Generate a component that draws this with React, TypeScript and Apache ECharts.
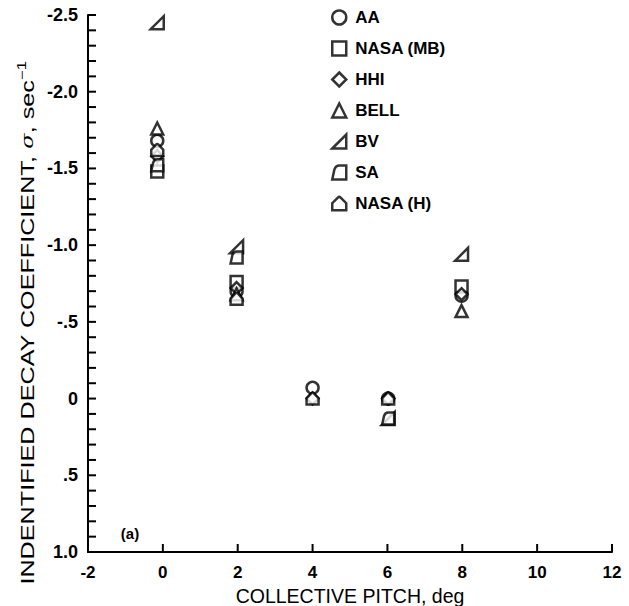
import React, { useEffect, useRef } from "react";
import * as echarts from "echarts";

// Collective pitch positions of the five test columns (deg)
const pitch = [-0.15, 1.97, 4.0, 6.02, 7.98];

// Identified decay coefficient sigma (sec^-1) per source, aligned with pitch; null = no point
const aaValues = [-1.68, -0.7, -0.07, 0.0, -0.67];
const nasaMbValues = [-1.48, -0.76, null, null, -0.73];
const hhiValues = [-1.58, -0.72, 0.0, 0.0, -0.68];
const bellValues = [-1.76, -0.68, null, null, -0.57];
const bvValues = [-2.45, -0.99, null, 0.13, -0.94];
const saValues = [-1.52, -0.92, null, 0.13, null];
const nasaHValues = [-1.62, -0.65, 0.0, 0.0, null];

const seriesNames = ["AA", "NASA (MB)", "HHI", "BELL", "BV", "SA", "NASA (H)"];

const yTickValues = [-2.5, -2.0, -1.5, -1.0, -0.5, 0, 0.5, 1.0];
const yTickLabels = ["-2.5", "-2.0", "-1.5", "-1.0", "-.5", "0", ".5", "1.0"];
const yMinorPerMajor = 5;

const xTickValues = [-2, 0, 2, 4, 6, 8, 10, 12];
const xTickLabels = ["-2", "0", "2", "4", "6", "8", "10", "12"];

const SYMBOLS = [
  "circle",
  "rect",
  "diamond",
  "triangle",
  "path://M0,10 L10,0 L10,10 Z",
  "path://M0,10 L1.5,3 Q2.5,0 5,0 L10,0 L10,10 Z",
  "path://M0,10 L0,5 L4,1 Q5,0 6,1 L10,5 L10,10 Z",
];

const allValues = [aaValues, nasaMbValues, hhiValues, bellValues, bvValues, saValues, nasaHValues];

const FONT = "'Liberation Sans', Arial, Helvetica, sans-serif";
const X_MIN = -2;
const Y_MAX = 1.0;

export default function App() {
  const ref = useRef<HTMLDivElement>(null);

  useEffect(() => {
    if (!ref.current) return;
    const chart = echarts.init(ref.current, undefined, { renderer: "svg" });

    const markerStyle = { color: "#ffffff", borderColor: "#000000", borderWidth: 2.5 };

    const series: any[] = seriesNames.map((name, i) => ({
      name,
      type: "scatter",
      symbol: SYMBOLS[i],
      symbolSize: i === 4 ? 13 : 12,
      itemStyle: markerStyle,
      data: pitch
        .map((p, j) => (allValues[i][j] === null ? null : [p, allValues[i][j]]))
        .filter((d) => d !== null),
    }));

    chart.setOption({
      animation: false,
      grid: { left: 88, right: 17, top: 15, bottom: 54, outerBoundsMode: "none" },
      xAxis: {
        type: "value",
        min: X_MIN,
        max: 12,
        interval: 2,
        name: "COLLECTIVE PITCH, deg",
        nameLocation: "middle",
        nameGap: 29,
        nameTextStyle: { fontFamily: FONT, fontSize: 19.5, color: "#000" },
        axisLine: { show: true, onZero: false, lineStyle: { color: "#000", width: 2 } },
        axisTick: { show: false },
        axisLabel: {
          fontFamily: FONT,
          fontSize: 17,
          fontWeight: "bold",
          color: "#000",
          margin: 12,
          formatter: (v: number) => {
            const k = xTickValues.findIndex((t) => Math.abs(t - v) < 1e-6);
            return k >= 0 ? xTickLabels[k] : "";
          },
        },
        splitLine: { show: false },
      },
      yAxis: {
        type: "value",
        inverse: true,
        min: -2.5,
        max: Y_MAX,
        interval: 0.5,
        axisLine: { show: true, onZero: false, lineStyle: { color: "#000", width: 2 } },
        axisTick: { show: false },
        axisLabel: {
          fontFamily: FONT,
          fontSize: 18,
          fontWeight: "bold",
          color: "#000",
          margin: 10,
          formatter: (v: number) => {
            const k = yTickValues.findIndex((t) => Math.abs(t - v) < 1e-6);
            return k >= 0 ? yTickLabels[k] : "";
          },
        },
        splitLine: { show: false },
      },
      legend: {
        orient: "vertical",
        left: 331,
        top: 9,
        padding: 0,
        itemWidth: 14,
        itemHeight: 14,
        itemGap: 14,
        selectedMode: false,
        textStyle: {
          fontFamily: FONT,
          fontSize: 17,
          fontWeight: "bold",
          color: "#000",
          padding: [0, 0, 0, 4],
        },
        data: seriesNames.map((name, i) => ({
          name,
          icon: SYMBOLS[i],
          itemStyle: markerStyle,
        })),
      },
      series,
    });

    // Tick marks, placed through the chart's own scales
    const yAllTicks: number[] = [];
    for (let i = 0; i < yTickValues.length; i++) {
      yAllTicks.push(yTickValues[i]);
      if (i < yTickValues.length - 1) {
        const step = (yTickValues[i + 1] - yTickValues[i]) / yMinorPerMajor;
        for (let k = 1; k < yMinorPerMajor; k++) yAllTicks.push(yTickValues[i] + k * step);
      }
    }
    const tickStyle = { stroke: "#000", lineWidth: 2 };
    const yTickEls = yAllTicks.map((v) => {
      const p = chart.convertToPixel({ gridIndex: 0 }, [X_MIN, v]) as number[];
      return { type: "line", silent: true, z: 10, shape: { x1: p[0], y1: p[1], x2: p[0] + 8, y2: p[1] }, style: tickStyle };
    });
    const xTickEls = xTickValues
      .filter((v) => v !== X_MIN)
      .map((v) => {
        const p = chart.convertToPixel({ gridIndex: 0 }, [v, Y_MAX]) as number[];
        return { type: "line", silent: true, z: 10, shape: { x1: p[0], y1: p[1], x2: p[0], y2: p[1] - 8 }, style: tickStyle };
      });

    chart.setOption({
      graphic: [
        {
          type: "text",
          x: 28,
          y: 323,
          rotation: Math.PI / 2,
          scaleX: 1.4,
          style: {
            text: "INDENTIFIED DECAY COEFFICIENT, {s|σ}, sec{sup|−1}",
            fontFamily: FONT,
            fontSize: 18,
            fill: "#000",
            align: "center",
            verticalAlign: "middle",
            textAlign: "center",
            textVerticalAlign: "middle",
            rich: {
              s: { fontFamily: "'DejaVu Serif', serif", fontStyle: "italic", fontSize: 16, fill: "#000" },
              sup: { fontFamily: FONT, fontSize: 12, fill: "#000", padding: [0, 0, 12, 0] },
            },
          },
        },
        {
          type: "text",
          x: 130,
          y: 533,
          style: {
            text: "(a)",
            fontFamily: FONT,
            fontSize: 15,
            fontWeight: "bold",
            fill: "#000",
            align: "center",
            verticalAlign: "middle",
            textAlign: "center",
            textVerticalAlign: "middle",
          },
        },
        ...yTickEls,
        ...xTickEls,
      ],
    });

    return () => chart.dispose();
  }, []);

  return (
    <div
      ref={ref}
      style={{ position: "fixed", left: 0, top: 0, width: 629, height: 606, background: "#fff" }}
    />
  );
}
